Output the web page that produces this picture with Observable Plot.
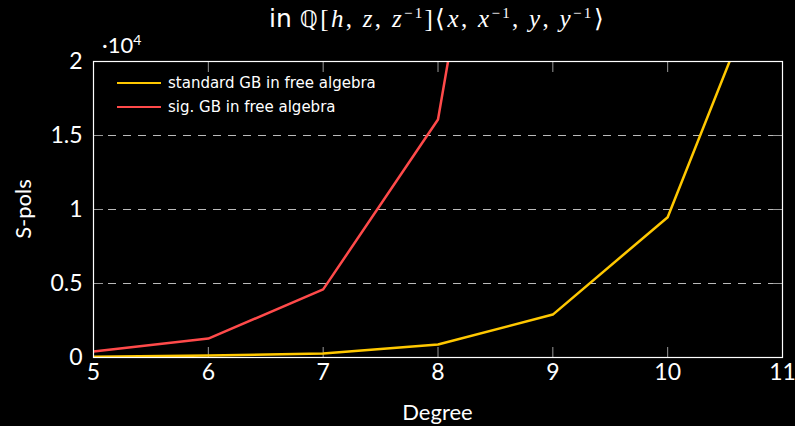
<!DOCTYPE html>
<html>
<head>
<meta charset="utf-8">
<script src="https://cdn.jsdelivr.net/npm/d3@7"></script>
<script src="https://cdn.jsdelivr.net/npm/@observablehq/plot@0.6"></script>
<style>
  html, body { margin: 0; padding: 0; background: #000; }
  #wrap { position: relative; width: 795px; height: 426px; background: #000; overflow: hidden; }
  #chart { position: absolute; left: 0; top: 0; }
  .ov { position: absolute; color: #fff; white-space: nowrap; }
  .m { font-family: "Liberation Serif", serif; font-style: italic; }
  .s { font-family: "Liberation Serif", serif; }
  .sup { font-size: 15px; font-family: "Liberation Serif", serif; vertical-align: 9px; line-height: 0; }
  .legrow { position: absolute; left: 117px; height: 20px; display: flex; align-items: center; font-family: "DejaVu Sans", sans-serif; font-size: 15px; color: #fff; }
  .legrow span.sw { display: inline-block; width: 44px; height: 2.5px; margin-right: 7px; }
</style>
</head>
<body>
<div id="wrap">
  <div id="chart"></div>
  <div class="ov" id="title" style="left:0;width:875px;top:4px;text-align:center;font-size:25px;font-family:'DejaVu Sans',sans-serif;line-height:30px;">
    in <span style="letter-spacing:2.3px"><span style="font-family:'DejaVu Sans';font-size:23px">ℚ</span><span class="s">[</span><span class="m">h</span><span class="s">, </span><span class="m">z</span><span class="s">, </span><span class="m">z</span><span class="sup">−1</span><span class="s">]⟨</span><span class="m">x</span><span class="s">, </span><span class="m">x</span><span class="sup">−1</span><span class="s">, </span><span class="m">y</span><span class="s">, </span><span class="m">y</span><span class="sup">−1</span><span class="s">⟩</span></span>
  </div>
  <div class="ov" style="left:102px;top:31px;font-family:Lato,sans-serif;font-size:22px;">·10<sup style="font-size:14px;">4</sup></div>
  <div class="ov" style="left:0;width:875px;top:398px;text-align:center;font-family:Lato,sans-serif;font-size:22px;">Degree</div>
  <div class="ov" style="left:22px;top:209px;transform:translate(-50%,-50%) rotate(-90deg);font-family:Lato,sans-serif;font-size:22px;">S-pols</div>
  <div id="legend"></div>
</div>
<script>
const degrees = [5, 6, 7, 8, 9, 10, 11];
const standardGB = [50, 130, 270, 880, 2900, 9480, 29000];
const sigDegrees = [5, 6, 7, 8, 9];
const sigGB = [400, 1280, 4600, 16080, 61000];
const xTicks = [5, 6, 7, 8, 9, 10, 11];
const yTicks = [0, 5000, 10000, 15000, 20000];
const gridValues = [5000, 10000, 15000];
const seriesNames = ["standard GB in free algebra", "sig. GB in free algebra"];
const seriesColors = ["#ffc800", "#ff4a4a"];

const stdData = degrees.map((d, i) => ({degree: d, value: standardGB[i]}));
const sigData = sigDegrees.map((d, i) => ({degree: d, value: sigGB[i]}));

const chart = Plot.plot({
  width: 795,
  height: 426,
  marginTop: 61,
  marginBottom: 69,
  marginLeft: 93,
  marginRight: 13,
  style: {background: "#000", color: "#fff", fontFamily: "Lato, sans-serif", fontSize: "22px", overflow: "visible"},
  x: {domain: [5, 11]},
  y: {domain: [0, 20000]},
  marks: [
    Plot.ruleY(gridValues, {stroke: "#bbb", strokeDasharray: "8,7", strokeWidth: 1}),
    Plot.axisX({anchor: "bottom", ticks: xTicks, tickSize: -10, tickPadding: 16, stroke: "#999", fill: "#fff", fontSize: 23, label: null, tickFormat: d => String(d)}),
    Plot.axisX({anchor: "top", ticks: xTicks, tickSize: -10, stroke: "#999", tickFormat: () => "", label: null}),
    Plot.axisY({anchor: "left", ticks: yTicks, tickSize: -10, tickPadding: 21, stroke: "#999", fill: "#fff", fontSize: 23, label: null, tickFormat: d => String(d / 10000)}),
    Plot.axisY({anchor: "right", ticks: yTicks, tickSize: -10, stroke: "#999", tickFormat: () => "", label: null}),
    Plot.line(stdData, {x: "degree", y: "value", stroke: seriesColors[0], strokeWidth: 2.5, clip: true}),
    Plot.line(sigData, {x: "degree", y: "value", stroke: seriesColors[1], strokeWidth: 2.5, clip: true}),
    Plot.frame({stroke: "#fff", strokeWidth: 1.2})
  ]
});
document.getElementById("chart").appendChild(chart);

const legend = document.getElementById("legend");
seriesNames.forEach((name, i) => {
  const row = document.createElement("div");
  row.className = "legrow";
  row.style.top = (73 + i * 24) + "px";
  const sw = document.createElement("span");
  sw.className = "sw";
  sw.style.background = seriesColors[i];
  row.appendChild(sw);
  row.appendChild(document.createTextNode(name));
  legend.appendChild(row);
});
</script>
</body>
</html>
